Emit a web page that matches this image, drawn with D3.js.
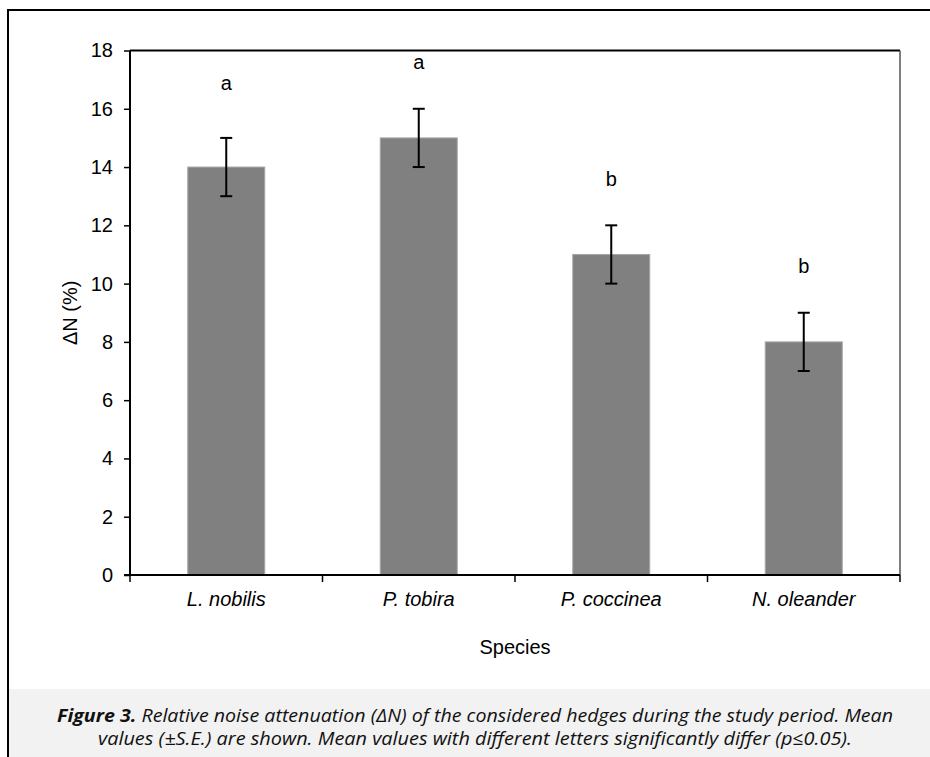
<!DOCTYPE html>
<html><head><meta charset="utf-8">
<script src="https://cdn.jsdelivr.net/npm/d3@7"></script>
<style>body{margin:0;background:#fff}svg{display:block}</style>
</head><body>
<script>
const categories = ["L. nobilis", "P. tobira", "P. coccinea", "N. oleander"];
const values = [14, 15, 11, 8];
const errors = [1, 1, 1, 1];
const letters = ["a", "a", "b", "b"];
const letterPos = [16.9, 17.6, 13.6, 10.6];
const yTicks = [0, 2, 4, 6, 8, 10, 12, 14, 16, 18];

const W = 930, H = 757;
const FONT = "Liberation Sans, Arial, sans-serif";
const svg = d3.select("body").append("svg").attr("width", W).attr("height", H);
const m = {left: 130, right: 900, top: 50.5, bottom: 575};

// caption band
svg.append("rect").attr("x", 8).attr("y", 689).attr("width", W - 8).attr("height", H - 689).attr("fill", "#f2f2f2");
// outer frame
svg.append("path").attr("d", `M8,${H} V10 H${W}`).attr("fill", "none").attr("stroke", "#000").attr("stroke-width", 2);

const x = d3.scaleBand().domain(categories).range([m.left, m.right]).paddingInner(0.6).paddingOuter(0.3);
const xb = d3.scaleBand().domain(categories).range([m.left, m.right]);
const y = d3.scaleLinear().domain([0, 18]).range([m.bottom, m.top]);

// plot frame top/right
svg.append("line").attr("x1", m.left).attr("x2", m.right).attr("y1", m.top).attr("y2", m.top).attr("stroke", "#000").attr("stroke-width", 2);
svg.append("line").attr("x1", m.right).attr("x2", m.right).attr("y1", m.top).attr("y2", m.bottom).attr("stroke", "#555").attr("stroke-width", 1.5);

// bars
svg.selectAll("rect.bar").data(values).join("rect").attr("class", "bar")
  .attr("x", (d, i) => x(categories[i])).attr("width", x.bandwidth())
  .attr("y", d => y(d)).attr("height", d => y(0) - y(d))
  .attr("fill", "#808080").attr("stroke", "#a6a6a6").attr("stroke-width", 1);

// error bars
const eb = svg.append("g").attr("stroke", "#000").attr("stroke-width", 2);
values.forEach((v, i) => {
  const cx = x(categories[i]) + x.bandwidth() / 2;
  eb.append("line").attr("x1", cx).attr("x2", cx).attr("y1", y(v - errors[i])).attr("y2", y(v + errors[i]));
  [v - errors[i], v + errors[i]].forEach(e => {
    eb.append("line").attr("x1", cx - 6).attr("x2", cx + 6).attr("y1", y(e)).attr("y2", y(e));
  });
});

// letters
svg.selectAll("text.let").data(letters).join("text").attr("class", "let")
  .attr("x", (d, i) => x(categories[i]) + x.bandwidth() / 2)
  .attr("y", (d, i) => y(letterPos[i])).attr("dy", "0.35em")
  .attr("text-anchor", "middle").attr("font-family", FONT)
  .attr("font-size", 20).text(d => d);

// y axis
const ya = svg.append("g").attr("transform", `translate(${m.left},0)`)
  .call(d3.axisLeft(y).tickValues(yTicks).tickSize(6).tickPadding(11));
ya.select(".domain").attr("stroke-width", 2).attr("d", `M0,${m.top}V${m.bottom}`);
ya.selectAll(".tick line").attr("stroke-width", 1.5);
ya.selectAll("text").attr("font-family", FONT).attr("font-size", 20).attr("fill", "#000");

// x axis
const xa = svg.append("g").attr("transform", `translate(0,${m.bottom})`)
  .call(d3.axisBottom(xb).tickSize(0).tickPadding(17));
xa.select(".domain").attr("stroke-width", 2).attr("d", `M${m.left - 6},0H${m.right}`);
xa.selectAll("text").attr("font-family", FONT).attr("font-size", 20)
  .attr("font-style", "italic").attr("fill", "#000");
const bounds = categories.map(c => xb(c)).concat([m.right]);
svg.append("g").selectAll("line").data(bounds).join("line")
  .attr("x1", d => d).attr("x2", d => d).attr("y1", m.bottom).attr("y2", m.bottom + 7)
  .attr("stroke", "#000").attr("stroke-width", 1.5);

// axis titles
svg.append("text").attr("transform", `translate(77,${(m.top + m.bottom) / 2}) rotate(-90)`)
  .attr("text-anchor", "middle").attr("font-family", FONT)
  .attr("font-size", 20).text("ΔN (%)");
svg.append("text").attr("x", (m.left + m.right) / 2).attr("y", 654)
  .attr("text-anchor", "middle").attr("font-family", FONT)
  .attr("font-size", 20).text("Species");

// caption
const cap1 = svg.append("text").attr("x", 475).attr("y", 722).attr("text-anchor", "middle")
  .attr("font-family", "Open Sans, sans-serif").attr("font-size", 18.5).attr("font-style", "italic")
  .attr("fill", "#111").attr("textLength", 836).attr("lengthAdjust", "spacingAndGlyphs");
cap1.append("tspan").attr("font-weight", "bold").text("Figure 3.");
cap1.append("tspan").text(" Relative noise attenuation (ΔN) of the considered hedges during the study period. Mean");
svg.append("text").attr("x", 475).attr("y", 745).attr("text-anchor", "middle")
  .attr("font-family", "Open Sans, sans-serif").attr("font-size", 18.5).attr("font-style", "italic")
  .attr("fill", "#111").attr("textLength", 754).attr("lengthAdjust", "spacingAndGlyphs")
  .text("values (±S.E.) are shown. Mean values with different letters significantly differ (p≤0.05).");
</script>
</body></html>
